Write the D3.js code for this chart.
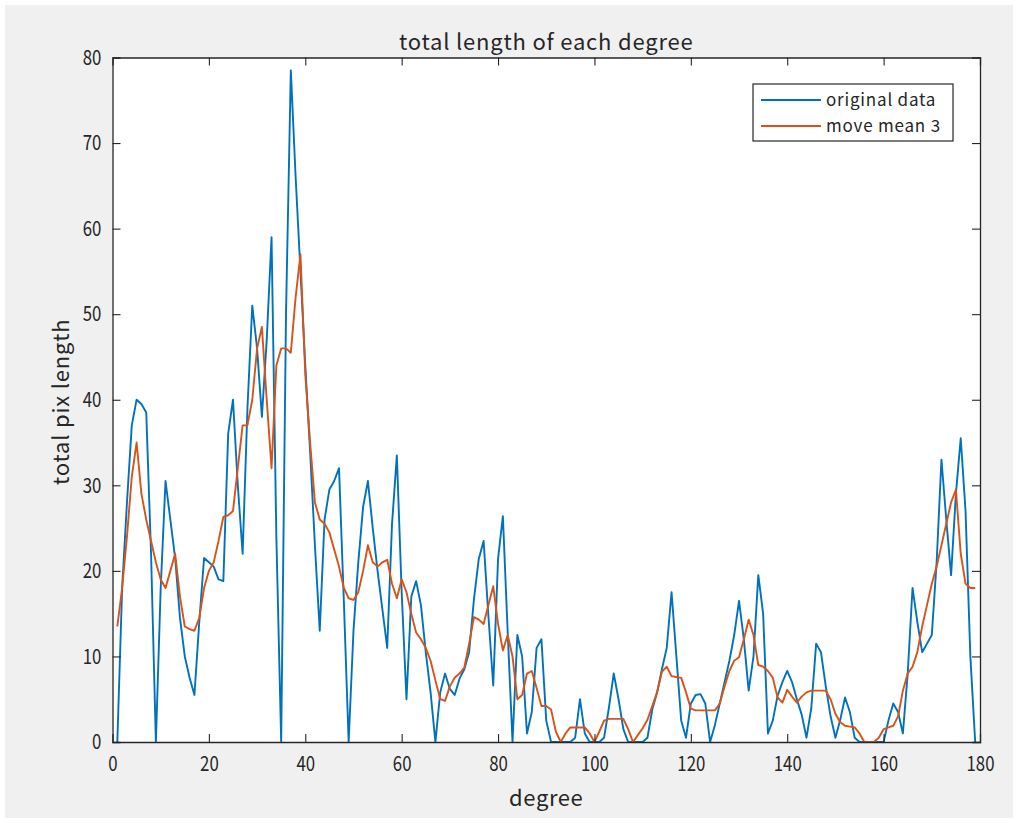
<!DOCTYPE html>
<html>
<head>
<meta charset="utf-8">
<script src="https://cdn.jsdelivr.net/npm/d3@7"></script>
<style>
  html, body { margin: 0; padding: 0; background: #ffffff; }
  svg { display: block; }
  text { font-family: "Noto Sans CJK JP", "Noto Sans", sans-serif; fill: #262626; }
</style>
</head>
<body>
<svg id="chart" width="1019" height="823"></svg>
<script>
// degree positions 1..179
const degrees = d3.range(1, 180);

// total pixel length measured at each degree
const originalData = [
  0, 18, 28, 37, 40, 39.5, 38.5, 22, 0, 18,
  30.5, 26, 21.5, 14.5, 10, 7.5, 5.5, 14, 21.5, 21,
  20.5, 19, 18.8, 36, 40, 30, 22, 39, 51, 46,
  38, 47, 59, 24, 0, 50, 78.5, 66, 55, 44,
  34, 23, 13, 26, 29.5, 30.5, 32, 16.5, 0, 13,
  21, 27.5, 30.5, 25, 20, 15.5, 11, 25.5, 33.5, 17.5,
  5, 17, 18.8, 16, 10.5, 5.8, 0, 5.8, 8, 6.2,
  5.5, 7.4, 8.5, 10.5, 16.7, 21.4, 23.5, 14.7, 6.6, 21.4,
  26.4, 12.8, 0, 12.5, 10, 1, 3.5, 11, 12, 2.5,
  0, 0, 0, 0, 0, 0.5, 5, 1, 0, 0,
  0, 0.5, 4, 8, 5, 1.5, 0, 0, 0, 0,
  0.5, 3.8, 5.8, 8.5, 11, 17.5, 10, 2.5, 0.5, 4.5,
  5.5, 5.6, 4.5, 0, 2, 4.5, 7, 9.5, 12.5, 16.5,
  12, 6, 10, 19.5, 15, 1, 2.5, 5.4, 7, 8.3,
  7, 5, 3.2, 0.5, 4, 11.5, 10.5, 6.5, 3, 0.5,
  2.6, 5.2, 3.5, 0.5, 0, 0, 0, 0, 0, 0,
  2.5, 4.5, 3.5, 1, 8, 18, 14, 10.5, 11.5, 12.5,
  21, 33, 26, 19.5, 29, 35.5, 27, 10, 0
];

// 3-point moving mean of the same measurements
const moveMean3 = [
  13.5, 18, 24, 31, 35, 29, 26, 23.5, 21, 19,
  18, 20, 22, 17, 13.5, 13.2, 13, 14.5, 18, 20,
  21, 23.5, 26.3, 26.5, 27, 32, 37, 37, 40, 46,
  48.5, 40, 32, 44, 46, 46, 45.5, 52, 57, 43,
  35, 28, 26, 25.5, 24.5, 22.5, 20.5, 18, 16.8, 16.6,
  17.5, 20, 23, 21, 20.5, 21, 21.3, 18.5, 16.8, 19,
  17.5, 15, 12.8, 12, 11, 9.5, 7.2, 5, 4.8, 6.5,
  7.5, 8, 8.7, 11.5, 14.6, 14.3, 13.8, 16, 18.2, 13.8,
  10.7, 12.5, 10, 5, 5.5, 8, 8.3, 6.3, 4.2, 4.2,
  3.8, 1.2, 0, 1, 1.7, 1.7, 1.7, 1.7, 1, 0,
  1.2, 2.5, 2.7, 2.7, 2.7, 2.7, 1.5, 0, 0.8, 1.6,
  2.6, 4.2, 5.8, 8.2, 8.8, 7.7, 7.6, 7.5, 5.8, 3.9,
  3.7, 3.7, 3.7, 3.7, 3.7, 4.5, 6.5, 8.3, 9.5, 9.9,
  12, 14.3, 12.5, 9, 8.8, 8.3, 7.5, 5.2, 4.6, 6.1,
  5.3, 4.6, 5.3, 5.8, 6, 6, 6, 6, 5, 3.3,
  2.3, 1.9, 1.8, 1.7, 1, 0, 0, 0, 0.5, 1.5,
  1.7, 1.9, 3, 6, 8, 8.8, 10.5, 13.5, 16, 18.5,
  20.5, 23, 25.5, 28, 29.5, 22, 18.5, 18, 18
];

const xTicks = [0, 20, 40, 60, 80, 100, 120, 140, 160, 180];
const yTicks = [0, 10, 20, 30, 40, 50, 60, 70, 80];

const seriesNames = ["original data", "move mean 3"];
const seriesColors = ["#0072BD", "#D95319"];

const svg = d3.select("#chart");

// figure background
svg.append("rect")
  .attr("x", 5).attr("y", 5)
  .attr("width", 1008).attr("height", 813)
  .attr("fill", "#f0f0f0");

const plotLeft = 112.5, plotRight = 980, plotTop = 57.5, plotBottom = 742;

const x = d3.scaleLinear().domain([0, 180]).range([plotLeft, plotRight]);
const y = d3.scaleLinear().domain([0, 80]).range([plotBottom, plotTop]);

// axes area
svg.append("rect")
  .attr("x", plotLeft).attr("y", plotTop)
  .attr("width", plotRight - plotLeft).attr("height", plotBottom - plotTop)
  .attr("fill", "#ffffff");

svg.append("clipPath").attr("id", "plotclip")
  .append("rect")
  .attr("x", plotLeft).attr("y", plotTop - 2)
  .attr("width", plotRight - plotLeft).attr("height", plotBottom - plotTop + 2);

const line = d3.line()
  .x((d, i) => x(degrees[i]))
  .y(d => y(d));

const plot = svg.append("g").attr("clip-path", "url(#plotclip)");

plot.append("path")
  .datum(originalData)
  .attr("d", line)
  .attr("fill", "none")
  .attr("stroke", seriesColors[0])
  .attr("stroke-width", 1.9)
  .attr("stroke-linejoin", "round");

plot.append("path")
  .datum(moveMean3)
  .attr("d", line)
  .attr("fill", "none")
  .attr("stroke", seriesColors[1])
  .attr("stroke-width", 1.9)
  .attr("stroke-linejoin", "round");

// axes with inward ticks on all four sides
const tickLen = 8;
const axisColor = "#262626";
const tickFont = "21px";
const squeeze = 0.8;   // narrow the tick digits horizontally

const bottomAxis = svg.append("g")
  .attr("transform", `translate(0,${plotBottom})`)
  .call(d3.axisBottom(x).tickValues(xTicks).tickSize(-tickLen).tickPadding(14).tickFormat(d3.format("d")));
const topAxis = svg.append("g")
  .attr("transform", `translate(0,${plotTop})`)
  .call(d3.axisTop(x).tickValues(xTicks).tickSize(-tickLen).tickFormat(""));
const leftAxis = svg.append("g")
  .attr("transform", `translate(${plotLeft},0)`)
  .call(d3.axisLeft(y).tickValues(yTicks).tickSize(-tickLen).tickPadding(14).tickFormat(d3.format("d")));
const rightAxis = svg.append("g")
  .attr("transform", `translate(${plotRight},0)`)
  .call(d3.axisRight(y).tickValues(yTicks).tickSize(-tickLen).tickFormat(""));

[bottomAxis, topAxis, leftAxis, rightAxis].forEach(g => {
  g.select(".domain").attr("stroke", axisColor).attr("stroke-width", 1.3);
  g.selectAll(".tick line").attr("stroke", axisColor).attr("stroke-width", 1.1);
  g.selectAll(".tick text")
    .attr("fill", axisColor)
    .attr("transform", `scale(${squeeze},1)`)
    .style("font-size", tickFont)
    .style("font-family", "'Noto Sans CJK JP', 'Noto Sans', sans-serif");
});
// drop end ticks that would sit on the box edges
bottomAxis.selectAll(".tick line").filter(d => d === 0 || d === 180).remove();
topAxis.selectAll(".tick line").filter(d => d === 0 || d === 180).remove();
leftAxis.selectAll(".tick line").filter(d => d === 0 || d === 80).remove();
rightAxis.selectAll(".tick line").filter(d => d === 0 || d === 80).remove();

// title and axis labels
svg.append("text")
  .attr("x", (plotLeft + plotRight) / 2).attr("y", 50)
  .attr("text-anchor", "middle")
  .style("font-size", "22px")
  .style("letter-spacing", "0.8px")
  .text("total length of each degree");

svg.append("text")
  .attr("x", (plotLeft + plotRight) / 2).attr("y", 806)
  .attr("text-anchor", "middle")
  .style("font-size", "22px")
  .style("letter-spacing", "0.6px")
  .text("degree");

svg.append("text")
  .attr("transform", `translate(69,${(plotTop + plotBottom) / 2 + 2}) rotate(-90)`)
  .attr("text-anchor", "middle")
  .style("font-size", "22px")
  .style("letter-spacing", "0.8px")
  .text("total pix length");

// legend
const legend = svg.append("g").attr("transform", "translate(753,84)");
legend.append("rect")
  .attr("width", 200).attr("height", 57)
  .attr("fill", "#ffffff")
  .attr("stroke", axisColor).attr("stroke-width", 1.2);

seriesNames.forEach((name, i) => {
  const row = legend.append("g").attr("transform", `translate(0,${16 + i * 26})`);
  row.append("line")
    .attr("x1", 8).attr("x2", 68)
    .attr("y1", 0).attr("y2", 0)
    .attr("stroke", seriesColors[i]).attr("stroke-width", 1.9);
  row.append("text")
    .attr("x", 73).attr("y", 0).attr("dy", "0.35em")
    .style("font-size", "17px")
    .style("letter-spacing", "0.8px")
    .text(name);
});
</script>
</body>
</html>
